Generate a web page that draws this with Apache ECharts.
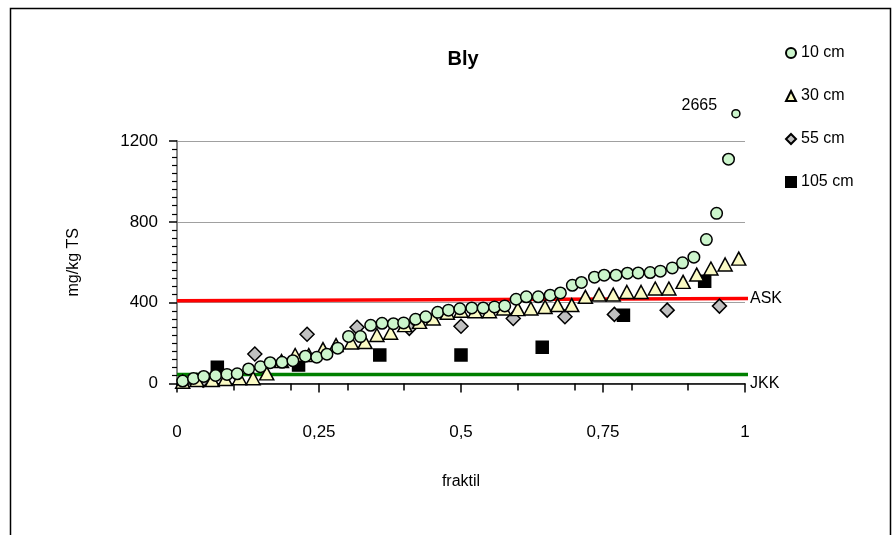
<!DOCTYPE html>
<html>
<head>
<meta charset="utf-8">
<script src="https://cdn.jsdelivr.net/npm/echarts@6/dist/echarts.min.js"></script>
<style>
  html, body { margin: 0; padding: 0; background: #ffffff; }
  #chart { width: 894px; height: 535px; }
</style>
</head>
<body>
<div id="chart"></div>
<script>
// Bly (lead) concentration, mg/kg TS, plotted against fraktil for four sampling depths
const fraktil10 = [0.010, 0.029, 0.047, 0.068, 0.088, 0.106, 0.126, 0.147, 0.164, 0.185,
                   0.204, 0.226, 0.246, 0.264, 0.283, 0.302, 0.323, 0.341, 0.361, 0.381,
                   0.399, 0.420, 0.438, 0.459, 0.478, 0.498, 0.519, 0.539, 0.559, 0.577,
                   0.597, 0.615, 0.636, 0.657, 0.675, 0.696, 0.712, 0.735, 0.752, 0.773,
                   0.793, 0.812, 0.833, 0.851, 0.872, 0.890, 0.910, 0.932, 0.950, 0.971, 0.984];
const bly10 = [12, 25, 35, 40, 45, 48, 72, 83, 103, 105,
               113, 135, 130, 145, 175, 233, 232, 288, 298, 296,
               300, 318, 330, 352, 363, 370, 374, 374, 379, 384,
               417, 429, 429, 437, 448, 486, 500, 526, 536, 536,
               546, 547, 549, 556, 572, 597, 625, 712, 842, 1110, 2665];

const fraktil30 = [0.010, 0.035, 0.062, 0.085, 0.110, 0.134, 0.158, 0.184, 0.208, 0.232,
                   0.257, 0.280, 0.307, 0.331, 0.352, 0.376, 0.401, 0.427, 0.451, 0.476,
                   0.500, 0.525, 0.550, 0.575, 0.600, 0.623, 0.648, 0.670, 0.695, 0.719,
                   0.743, 0.768, 0.792, 0.817, 0.842, 0.866, 0.891, 0.915, 0.940, 0.965, 0.989];
const bly30 = [9, 17, 17, 22, 26, 26, 50, 111, 141, 141,
               170, 190, 203, 205, 240, 251, 289, 305, 322, 350,
               360, 358, 358, 371, 368, 371, 379, 388, 388, 429,
               440, 440, 453, 453, 470, 470, 503, 539, 569, 589, 618];

const fraktil55 = [0.046, 0.137, 0.229, 0.317, 0.409, 0.500, 0.592, 0.683, 0.770, 0.863, 0.955];
const bly55 = [17, 146, 244, 278, 273, 283, 322, 330, 342, 363, 383];

const fraktil105 = [0.071, 0.214, 0.357, 0.500, 0.643, 0.786, 0.929];
const bly105 = [80, 91, 141, 141, 179, 338, 506];

// Guideline levels (start and end of each drawn line)
const askX = [0, 1.016];
const askY = [409, 421];
const jkkX = [0, 1.016];
const jkkY = [45, 45];

const Y_MAX = 1200;
const OFF_SCALE_Y = 1335;   // where values beyond the axis top are parked

const FONT = 'Liberation Sans';

function pairs(xs, ys) {
  return xs.map((x, i) => [x, ys[i]]);
}

// values above the axis are drawn just over the plot with their true value as a label
function pointsWithOffscale(xs, ys) {
  return xs.map((x, i) => {
    if (ys[i] > Y_MAX) {
      return {
        value: [x, OFF_SCALE_Y, ys[i]],
        symbolSize: 8,
        label: {
          show: true, position: 'left', distance: 14, offset: [0, -8],
          formatter: p => String(p.value[2]),
          color: '#000', fontFamily: FONT, fontSize: 16
        }
      };
    }
    return [x, ys[i]];
  });
}

const chart = echarts.init(document.getElementById('chart'), null, { renderer: 'canvas' });

function markerStyle(fill) {
  return { color: fill, borderColor: '#000', borderWidth: 1.5, opacity: 1 };
}

chart.setOption({
  animation: false,
  backgroundColor: '#fff',
  textStyle: { fontFamily: FONT },
  title: {
    text: 'Bly',
    left: 458, top: 44, textAlign: 'center',
    textStyle: { fontFamily: FONT, fontWeight: 'bold', fontSize: 20, color: '#000' }
  },
  graphic: [{
    type: 'rect', silent: true,
    shape: { x: 10.5, y: 8.5, width: 880, height: 540 },
    style: { fill: 'none', stroke: '#000', lineWidth: 1.5 }
  }],
  legend: {
    orient: 'vertical', left: 780, top: 40, itemGap: 27,
    itemWidth: 10, itemHeight: 10,
    textStyle: { fontFamily: FONT, fontSize: 16, color: '#000' },
    data: [
      { name: '10 cm', icon: 'circle' },
      { name: '30 cm', icon: 'triangle' },
      { name: '55 cm', icon: 'diamond' },
      { name: '105 cm', icon: 'rect' }
    ]
  },
  grid: { left: 177, right: 149, top: 141, bottom: 151.5, containLabel: false },
  xAxis: [{
    type: 'value', min: 0, max: 1, interval: 0.25,
    name: 'fraktil', nameLocation: 'middle', nameGap: 90,
    nameTextStyle: { fontFamily: FONT, fontSize: 16, color: '#000' },
    axisLine: { show: true, lineStyle: { color: '#000', width: 1.5 } },
    axisTick: { show: true, length: 9, lineStyle: { color: '#000', width: 1.5 } },
    axisLabel: {
      margin: 40, color: '#000', fontFamily: FONT, fontSize: 17,
      formatter: v => String(v).replace('.', ',')
    },
    splitLine: { show: false }
  }, {
    type: 'value', min: 0, max: 1, interval: 0.1, position: 'bottom',
    axisLine: { show: false },
    axisTick: { show: true, length: 7, lineStyle: { color: '#000', width: 1.5 } },
    axisLabel: { show: false },
    splitLine: { show: false }
  }],
  yAxis: [{
    type: 'value', min: 0, max: Y_MAX, interval: 400,
    name: 'mg/kg TS', nameLocation: 'middle', nameGap: 95, nameRotate: 90,
    nameTextStyle: { fontFamily: FONT, fontSize: 16, color: '#000' },
    axisLine: { show: true, lineStyle: { color: '#000', width: 1.5 } },
    axisTick: { show: true, length: 8, lineStyle: { color: '#000', width: 1.5 } },
    minorTick: { show: true, splitNumber: 10, length: 5, lineStyle: { color: '#000', width: 1.2 } },
    axisLabel: { margin: 19, color: '#000', fontFamily: FONT, fontSize: 17, formatter: v => String(v) },
    splitLine: { show: true, lineStyle: { color: '#a0a0a0', width: 1.2 } }
  }, {
    type: 'value', min: 0, max: Y_MAX, position: 'right',
    axisLine: { show: true, lineStyle: { color: '#a0a0a0', width: 1.5 } },
    axisTick: { show: false }, axisLabel: { show: false }, splitLine: { show: false }
  }],
  series: [
    {
      name: 'ASK', type: 'line', data: pairs(askX, askY), symbol: 'none', clip: false,
      lineStyle: { color: '#ff0000', width: 3.5 }, z: 1,
      endLabel: { show: true, formatter: 'ASK', color: '#000', fontFamily: FONT, fontSize: 16, distance: 2 }
    },
    {
      name: 'JKK', type: 'line', data: pairs(jkkX, jkkY), symbol: 'none', clip: false,
      lineStyle: { color: '#008000', width: 3.5 }, z: 1,
      endLabel: { show: true, formatter: 'JKK', color: '#000', fontFamily: FONT, fontSize: 16, distance: 2, offset: [0, 9] }
    },
    {
      name: '105 cm', type: 'scatter', data: pairs(fraktil105, bly105),
      symbol: 'rect', symbolSize: 12, z: 2,
      itemStyle: markerStyle('#000')
    },
    {
      name: '55 cm', type: 'scatter', data: pairs(fraktil55, bly55),
      symbol: 'diamond', symbolSize: 14, z: 3,
      itemStyle: markerStyle('#c0c0c0')
    },
    {
      name: '30 cm', type: 'scatter', data: pairs(fraktil30, bly30),
      symbol: 'triangle', symbolSize: [14, 13], z: 4,
      itemStyle: markerStyle('#fafac4')
    },
    {
      name: '10 cm', type: 'scatter', data: pointsWithOffscale(fraktil10, bly10), clip: false,
      symbol: 'circle', symbolSize: 11.5, z: 5,
      itemStyle: markerStyle('#ccf5cc')
    }
  ]
});
</script>
</body>
</html>
